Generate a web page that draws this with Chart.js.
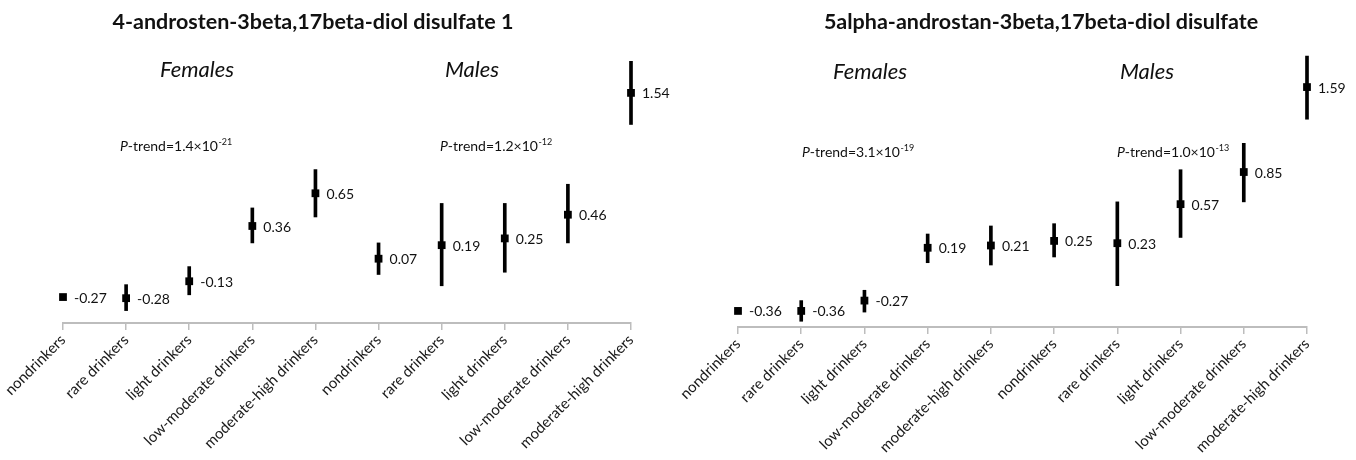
<!DOCTYPE html>
<html>
<head>
<meta charset="utf-8">
<script src="https://cdn.jsdelivr.net/npm/chart.js@4"></script>
<style>
  body { margin: 0; background: #fff; }
  canvas { position: absolute; top: 0; }
</style>
</head>
<body>
<canvas id="left-chart" width="678" height="460" style="left:0"></canvas>
<canvas id="right-chart" width="678" height="460" style="left:678px"></canvas>
<script>
// Categories (females then males)
const categories = [
    'nondrinkers', 'rare drinkers', 'light drinkers', 'low-moderate drinkers', 'moderate-high drinkers',
    'nondrinkers', 'rare drinkers', 'light drinkers', 'low-moderate drinkers', 'moderate-high drinkers'
];

// 4-androsten-3beta,17beta-diol disulfate 1
const androstenMean = [-0.27, -0.28, -0.13, 0.36, 0.65, 0.07, 0.19, 0.25, 0.46, 1.54];
const androstenLow = [-0.29, -0.39, -0.25, 0.21, 0.44, -0.07, -0.17, -0.05, 0.21, 1.26];
const androstenHigh = [-0.25, -0.16, 0.00, 0.52, 0.86, 0.21, 0.56, 0.56, 0.73, 1.82];

// 5alpha-androstan-3beta,17beta-diol disulfate
const androstanMean = [-0.36, -0.36, -0.27, 0.19, 0.21, 0.25, 0.23, 0.57, 0.85, 1.59];
const androstanLow = [-0.38, -0.45, -0.37, 0.06, 0.04, 0.11, -0.14, 0.28, 0.59, 1.31];
const androstanHigh = [-0.34, -0.27, -0.18, 0.31, 0.38, 0.40, 0.59, 0.87, 1.10, 1.86];

const yMin = -0.5;
const yMax = 2.0;

const FONT = 'Lato, "Open Sans", sans-serif';

// draws "P-trend=1.4×10^-21"
function drawPTrend(ctx, x, y, mant, exp) {
    ctx.textAlign = 'left';
    ctx.textBaseline = 'alphabetic';
    ctx.font = 'italic 14px ' + FONT;
    ctx.fillText('P', x, y);
    x += ctx.measureText('P').width;
    ctx.font = '14px ' + FONT;
    const main = '-trend=' + mant + '\u00d710';
    ctx.fillText(main, x, y);
    x += ctx.measureText(main).width;
    ctx.font = '9px ' + FONT;
    ctx.fillText(exp, x + 0.5, y - 6);
}

function makeChart(id, mean, low, high, txt) {
    const annotations = {
        id: 'annotations',
        afterDraw(chart) {
            const ctx = chart.ctx;
            ctx.save();
            ctx.fillStyle = '#111';

            // value labels next to each point
            const meta = chart.getDatasetMeta(1);
            ctx.font = '14px ' + FONT;
            ctx.textAlign = 'left';
            ctx.textBaseline = 'middle';
            meta.data.forEach((pt, i) => {
                ctx.fillText(mean[i].toFixed(2), pt.x + 11, pt.y + 1);
            });

            // title
            ctx.textAlign = 'center';
            ctx.textBaseline = 'alphabetic';
            ctx.font = 'bold 21.5px ' + FONT;
            ctx.fillText(txt.title, txt.titleX, 29);

            // group labels
            ctx.font = 'italic 22px ' + FONT;
            ctx.fillText('Females', txt.femX, txt.groupY);
            ctx.fillText('Males', txt.maleX, txt.groupY);

            drawPTrend(ctx, txt.pFemX, txt.pY, txt.pFem[0], txt.pFem[1]);
            drawPTrend(ctx, txt.pMaleX, txt.pY, txt.pMale[0], txt.pMale[1]);
            ctx.restore();
        }
    };

    return new Chart(document.getElementById(id), {
        type: 'bar',
        data: {
            labels: categories,
            datasets: [{
                // 95% CI
                data: low.map((l, i) => [l, high[i]]),
                backgroundColor: '#000',
                barThickness: 3,
                clip: false,
                order: 2
            }, {
                type: 'line',
                data: mean,
                showLine: false,
                pointStyle: 'rect',
                pointRadius: 5.5,
                backgroundColor: '#000',
                borderWidth: 0,
                clip: false,
                order: 1
            }]
        },
        options: {
            responsive: false,
            animation: false,
            layout: { padding: txt.padding },
            plugins: { legend: { display: false }, tooltip: { enabled: false } },
            scales: {
                x: {
                    type: 'category',
                    offset: false,
                    grid: {
                        offset: false,
                        drawOnChartArea: false,
                        tickLength: 7,
                        color: '#bdbdbd',
                        lineWidth: 1.5
                    },
                    border: { color: '#bdbdbd', width: 2 },
                    ticks: {
                        autoSkip: false,
                        minRotation: 45,
                        maxRotation: 45,
                        padding: 1,
                        color: '#1a1a1a',
                        font: { family: FONT, size: 15 }
                    },
                    afterFit(scale) {
                        scale.height = txt.axisHeight;
                        scale.paddingLeft = 0;
                        scale.paddingRight = 0;
                    }
                },
                y: { display: false, min: yMin, max: yMax }
            }
        },
        plugins: [annotations]
    });
}

makeChart('left-chart', androstenMean, androstenLow, androstenHigh, {
    title: '4-androsten-3beta,17beta-diol disulfate 1',
    titleX: 313,
    femX: 197, maleX: 472, groupY: 77,
    pFemX: 120, pMaleX: 440, pY: 151,
    pFem: ['1.4', '-21'], pMale: ['1.2', '-12'],
    padding: { left: 63, right: 47, top: 41, bottom: 0 },
    axisHeight: 137
});

makeChart('right-chart', androstanMean, androstanLow, androstanHigh, {
    title: '5alpha-androstan-3beta,17beta-diol disulfate',
    titleX: 363,
    femX: 192, maleX: 469, groupY: 79,
    pFemX: 124, pMaleX: 439, pY: 157,
    pFem: ['3.1', '-19'], pMale: ['1.0', '-13'],
    padding: { left: 60, right: 49, top: 40, bottom: 0 },
    axisHeight: 133
});
</script>
</body>
</html>
